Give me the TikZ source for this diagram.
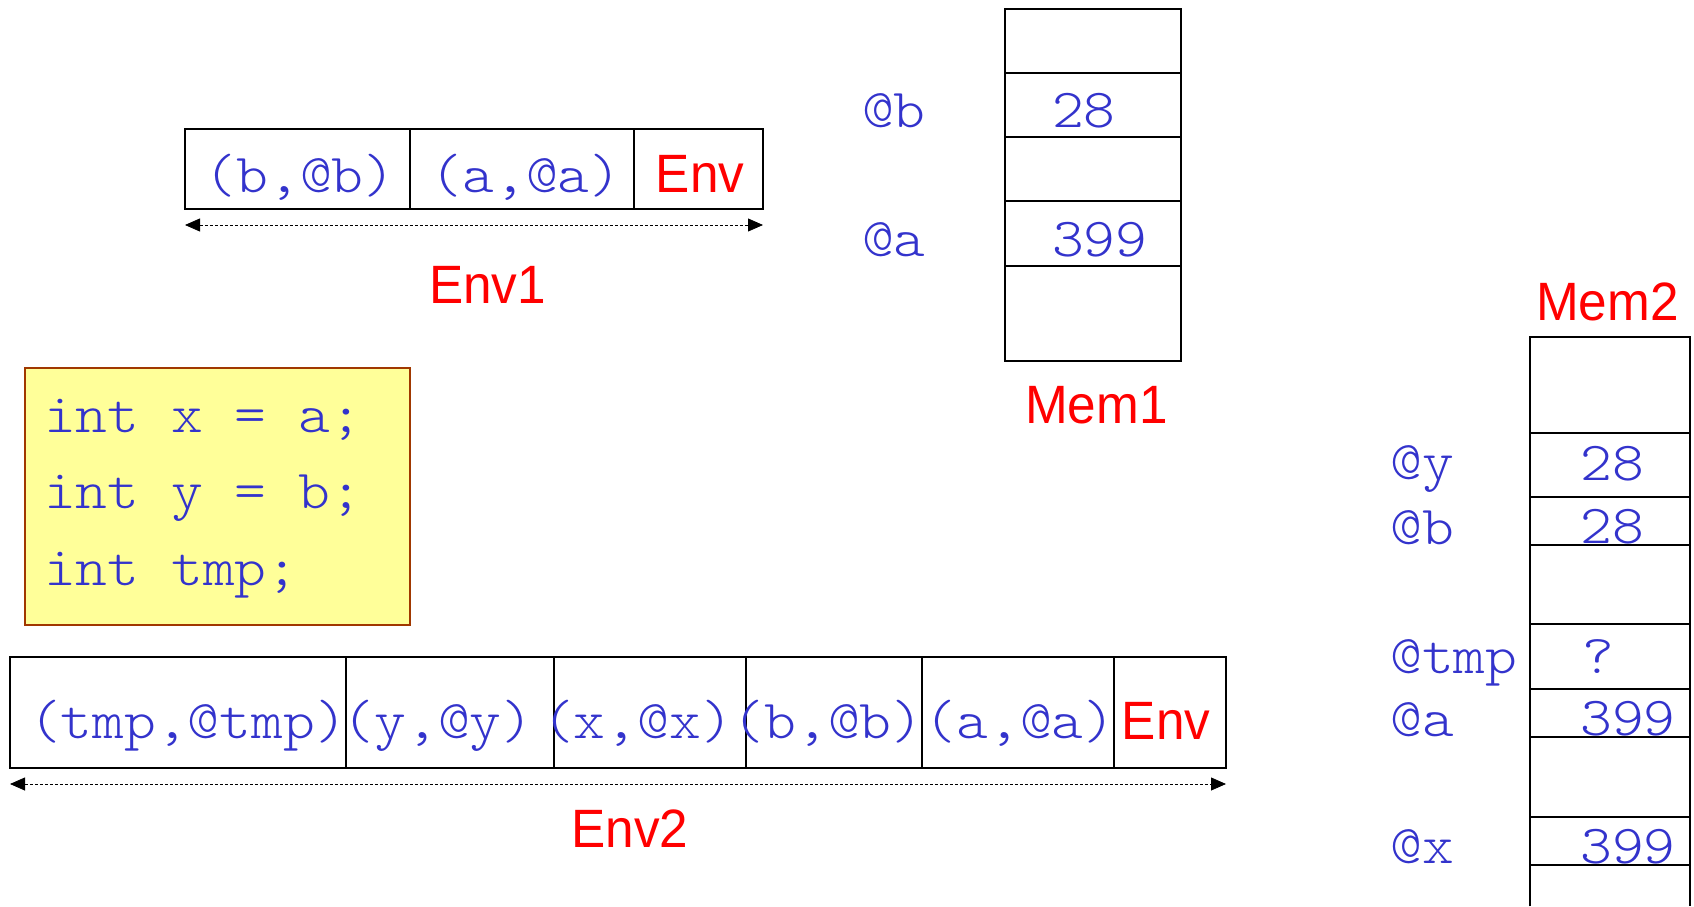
\documentclass[tikz,border=0pt]{standalone}
\usepackage{fontspec}
\setmainfont{Liberation Sans}
\newfontfamily\lmlight{Latin Modern Mono Light}
\usetikzlibrary{arrows.meta}
\definecolor{codeblue}{RGB}{51,51,204}
\definecolor{labred}{RGB}{255,0,0}
\definecolor{noteyellow}{RGB}{255,255,153}
\definecolor{notebrown}{RGB}{160,56,0}
\newcommand{\monotxt}{\lmlight\fontsize{55}{66}\selectfont}
\newcommand{\redtxt}{\fontsize{54}{60}\selectfont}
\tikzset{
  mt/.style={font=\monotxt, text=codeblue, inner sep=0pt, xscale=1.1, anchor=base},
  mtl/.style={mt, anchor=base west},
  rl/.style={font=\redtxt, text=labred, inner sep=0pt, xscale=0.95, anchor=base},
  box/.style={draw=black, line width=1.7pt},
  span/.style={densely dashed, line width=0.8pt,
    {Triangle[length=15pt,width=13pt]}-{Triangle[length=15pt,width=13pt]}}
}
\begin{document}
\begin{tikzpicture}[x=1pt,y=-1pt]
\useasboundingbox (0,0) rectangle (1694,906.4);

% ---------- Env1 ----------
\draw[box] (185,129) rectangle (763,209);
\draw[box] (410,129) -- (410,209);
\draw[box] (634,129) -- (634,209);
\node[mt] (e1b) at (300,193) {(b,@b)};
\node[mt] (e1a) at (526,193) {(a,@a)};
\node[rl] (e1env) at (700,193) {Env};
\coordinate (e1l) at (185,225);
\coordinate (e1r) at (763,225);
\draw[span] (e1l) -- (e1r);
\node[rl] (env1) at (487.5,303) {Env1};

% ---------- Mem1 ----------
\draw[box] (1005,9) rectangle (1181,361);
\foreach \yy in {73,137,201,266} \draw[box] (1005,\yy) -- (1181,\yy);
\node[mtl] (m1b) at (862,128) {@b};
\node[mtl] (m1a) at (862,257) {@a};
\node[mtl] (m1v28) at (1052,128) {28};
\node[mtl] (m1v399) at (1052,257) {399};
\node[rl] (mem1) at (1096.5,423) {Mem1};

% ---------- code box ----------
\node[draw=notebrown, fill=noteyellow, line width=1.7pt, minimum width=385pt,
      minimum height=257pt, inner sep=0pt] (code) at (217.5,496.5) {};
\node[mtl] (c1) at (44,432) {int x = a;};
\node[mtl] (c2) at (44,508) {int y = b;};
\node[mtl] (c3) at (44,585) {int tmp;};

% ---------- Env2 ----------
\draw[box] (10,657) rectangle (1226,768);
\foreach \xx in {346,554,746,922,1114} \draw[box] (\xx,657) -- (\xx,768);
\node[mt] (e2tmp) at (188,738) {(tmp,@tmp)};
\node[mt] (e2y) at (438,738) {(y,@y)};
\node[mt] (e2x) at (637.5,738) {(x,@x)};
\node[mt] (e2b) at (828,738) {(b,@b)};
\node[mt] (e2a) at (1020,738) {(a,@a)};
\node[rl] (e2env) at (1166,739) {Env};
\coordinate (e2l) at (10,784);
\coordinate (e2r) at (1226,784);
\draw[span] (e2l) -- (e2r);
\node[rl] (env2) at (630,847) {Env2};

% ---------- Mem2 ----------
\node[rl] (mem2) at (1607.5,320) {Mem2};
\draw[box] (1530,906.4) -- (1530,337) -- (1690,337) -- (1690,906.4);
\foreach \yy in {433,497,545,624,689,737,817,865} \draw[box] (1530,\yy) -- (1690,\yy);
\node[mtl] (m2y) at (1390,479) {@y};
\node[mtl] (m2b) at (1390,544) {@b};
\node[mtl] (m2tmp) at (1390,673) {@tmp};
\node[mtl] (m2a) at (1390,736) {@a};
\node[mtl] (m2x) at (1390,863) {@x};
\node[mtl] (m2v1) at (1580,480) {28};
\node[mtl] (m2v2) at (1580,543) {28};
\node[mtl] (m2v3) at (1582,673) {?};
\node[mtl] (m2v4) at (1580,735) {399};
\node[mtl] (m2v5) at (1580,863) {399};
\end{tikzpicture}
\end{document}
